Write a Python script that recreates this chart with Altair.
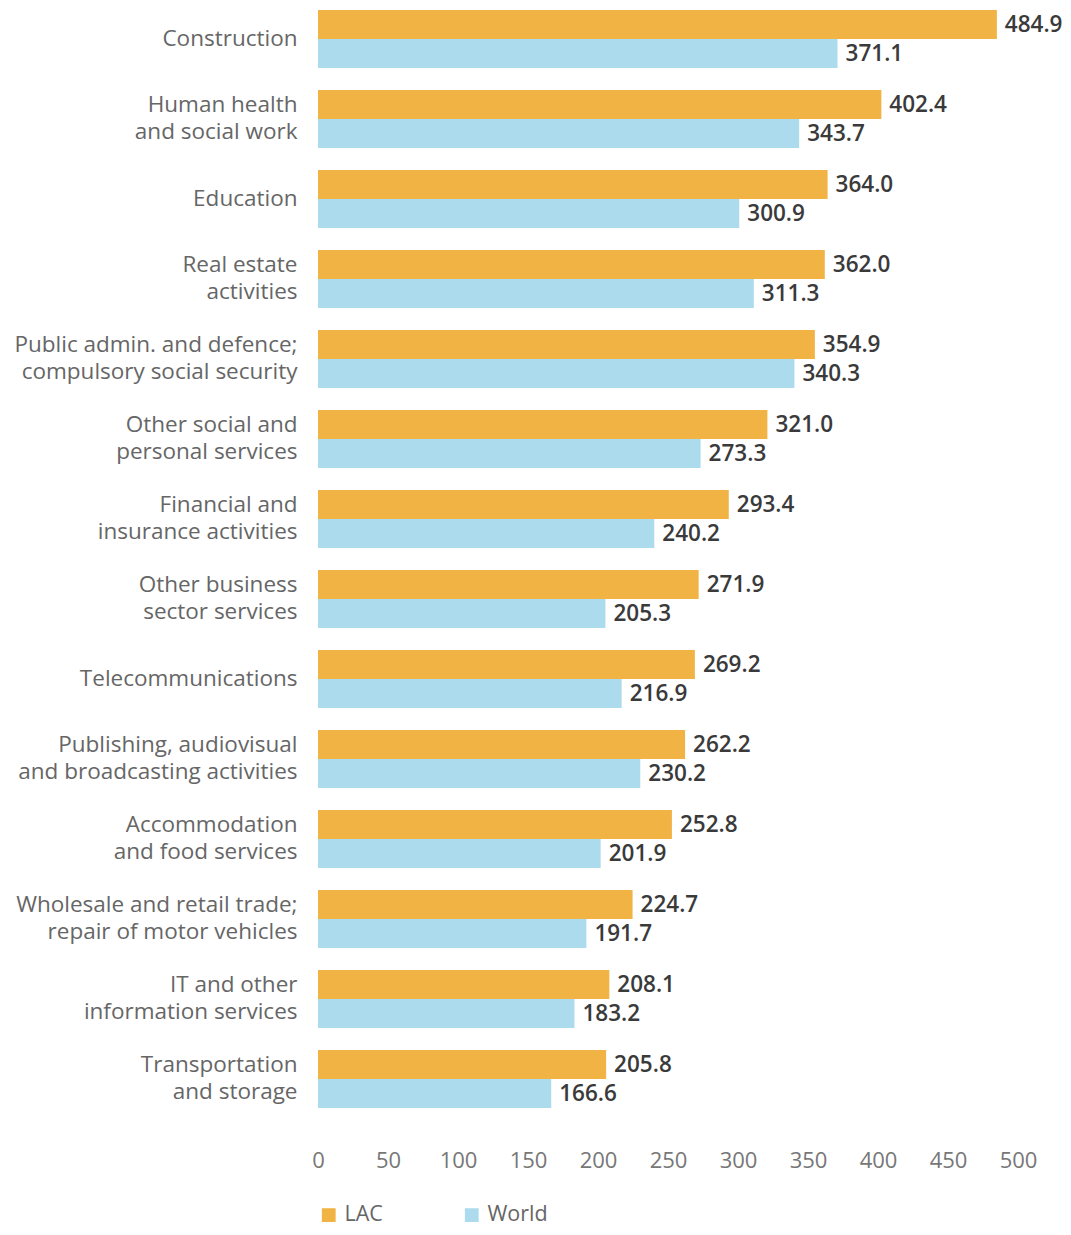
import altair as alt
import pandas as pd

categories = [
    "Construction",
    "Human health|and social work",
    "Education",
    "Real estate|activities",
    "Public admin. and defence;|compulsory social security",
    "Other social and|personal services",
    "Financial and|insurance activities",
    "Other business|sector services",
    "Telecommunications",
    "Publishing, audiovisual|and broadcasting activities",
    "Accommodation|and food services",
    "Wholesale and retail trade;|repair of motor vehicles",
    "IT and other|information services",
    "Transportation|and storage",
]
lac = [484.9, 402.4, 364.0, 362.0, 354.9, 321.0, 293.4, 271.9, 269.2, 262.2, 252.8, 224.7, 208.1, 205.8]
world = [371.1, 343.7, 300.9, 311.3, 340.3, 273.3, 240.2, 205.3, 216.9, 230.2, 201.9, 191.7, 183.2, 166.6]
series = ["LAC", "World"]
colors = ["#F1B343", "#ADDBEE"]
x_ticks = [0, 50, 100, 150, 200, 250, 300, 350, 400, 450, 500]

rows = []
for c, a, b in zip(categories, lac, world):
    rows.append({"category": c, "series": "LAC", "value": a})
    rows.append({"category": c, "series": "World", "value": b})
df = pd.DataFrame(rows)

FONT = "Open Sans"

y_enc = alt.Y(
    "category:N",
    sort=categories,
    scale=alt.Scale(paddingInner=0.275, paddingOuter=0.025),
    axis=alt.Axis(
        title=None,
        domain=False,
        ticks=False,
        labelExpr="split(datum.label, '|')",
        labelFont=FONT,
        labelFontSize=22.5,
        labelColor="#666666",
        labelLineHeight=27,
        labelPadding=21,
        labelLimit=400,
        labelOffset={"condition": {"test": "indexof(datum.value, '|') >= 0", "value": -14}, "value": 0},
        minExtent=310,
        maxExtent=310,
    ),
)
yoff = alt.YOffset("series:N", sort=series, scale=alt.Scale(paddingInner=0, paddingOuter=0))

bars = alt.Chart(df).mark_bar().encode(
    x=alt.X(
        "value:Q",
        scale=alt.Scale(domain=[0, 500], nice=False),
        axis=alt.Axis(
            title=None,
            values=x_ticks,
            domain=False,
            ticks=False,
            grid=False,
            labelFont=FONT,
            labelFontSize=22,
            labelColor="#777777",
            labelPadding=40,
            labelFlush=False,
        ),
    ),
    y=y_enc,
    yOffset=yoff,
    color=alt.Color(
        "series:N",
        sort=series,
        scale=alt.Scale(domain=series, range=colors),
        legend=alt.Legend(
            title=None,
            orient="none",
            direction="horizontal",
            legendX=0,
            legendY=1196,
            symbolType="square",
            symbolSize=190,
            symbolStrokeWidth=0,
            labelFont=FONT,
            labelFontSize=21.5,
            labelColor="#666666",
            labelOffset=5,
            columnPadding=78,
        ),
    ),
)

labels = alt.Chart(df).mark_text(
    align="left", baseline="middle", dx=8, font=FONT, fontSize=22.5, fontWeight=600, color="#3a3a3a"
).encode(
    x="value:Q",
    y=alt.Y("category:N", sort=categories),
    yOffset=alt.YOffset("series:N", sort=series),
    text=alt.Text("value:Q", format=".1f"),
)

chart = (
    alt.layer(bars, labels)
    .properties(width=700, height=1102, padding=0)
    .configure_view(stroke=None)
)

chart.save("out.html", embed_options={"renderer": "svg", "actions": False})
